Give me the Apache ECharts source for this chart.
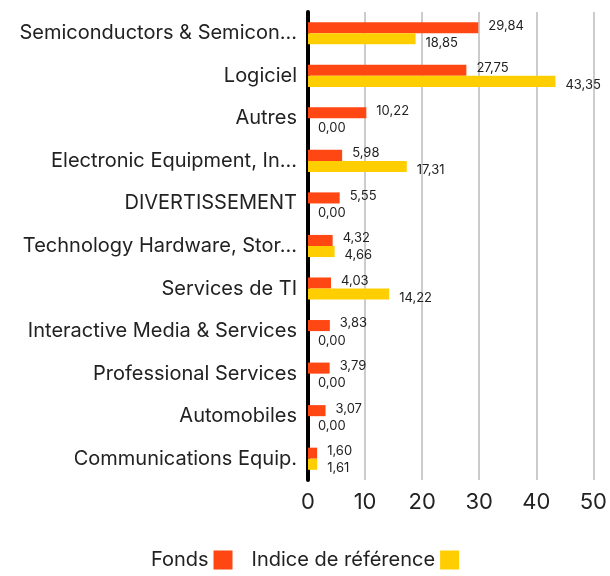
<!DOCTYPE html>
<html><head><meta charset="utf-8">
<script src="https://cdn.jsdelivr.net/npm/echarts@6/dist/echarts.min.js"></script>
<style>html,body{margin:0;padding:0;background:#fff}#c{width:610px;height:576px}</style>
</head><body><div id="c"></div>
<script>
const categories = ["Semiconductors & Semicon...","Logiciel","Autres","Electronic Equipment, In...","DIVERTISSEMENT","Technology Hardware, Stor...","Services de TI","Interactive Media & Services","Professional Services","Automobiles","Communications Equip."];
const fonds = [29.84,27.75,10.22,5.98,5.55,4.32,4.03,3.83,3.79,3.07,1.60];
const indice = [18.85,43.35,0.00,17.31,0.00,4.66,14.22,0.00,0.00,0.00,1.61];
const xTicks = {min:0,max:50,interval:10};
const FONT = 'Inter, "Noto Sans", sans-serif';
const fmt = p => p.value.toFixed(2).replace('.', ',');
const chart = echarts.init(document.getElementById('c'), null, {renderer:'canvas'});
chart.setOption({
  animation:false,
  textStyle:{fontFamily:FONT},
  grid:{left:308,right:12,top:12,bottom:96,containLabel:false},
  legend:{bottom:1,left:'center',itemWidth:19,itemHeight:19,itemGap:19,align:'right',icon:'rect',
    textStyle:{fontSize:20,color:'#222',fontFamily:FONT},data:['Fonds','Indice de référence']},
  xAxis:{type:'value',min:xTicks.min,max:xTicks.max,interval:xTicks.interval,
    axisLine:{show:false},axisTick:{show:false},
    splitLine:{show:true,lineStyle:{color:'#cccccc',width:2}},
    axisLabel:{fontSize:22,color:'#222',margin:11,fontFamily:FONT}},
  yAxis:{type:'category',data:categories,inverse:true,
    axisLine:{show:true,lineStyle:{color:'#000',width:4}},axisTick:{show:false},
    axisLabel:{fontSize:20,color:'#222',margin:11,fontFamily:FONT}},
  series:[
    {name:'Fonds',type:'bar',data:fonds,barGap:'0%',barCategoryGap:'48%',itemStyle:{color:'#FF4713'},
      label:{show:true,position:'right',distance:10,offset:[0,-2],fontSize:13,color:'#222',formatter:fmt,fontFamily:FONT}},
    {name:'Indice de référence',type:'bar',data:indice,barGap:'0%',barCategoryGap:'48%',itemStyle:{color:'#FFCE00'},
      label:{show:true,position:'right',distance:10,offset:[0,4],fontSize:13,color:'#222',formatter:fmt,fontFamily:FONT}}
  ]
});
</script></body></html>
